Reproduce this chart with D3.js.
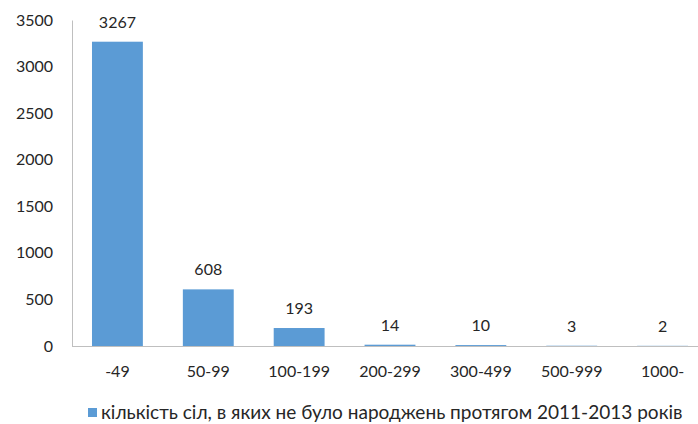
<!DOCTYPE html>
<html><head><meta charset="utf-8">
<script src="https://cdn.jsdelivr.net/npm/d3@7"></script>
<style>body{margin:0;background:#fff}svg{display:block}text{font-family:Lato,"Open Sans",sans-serif}</style>
</head><body>
<svg id="c" width="698" height="424"></svg>
<script>
const categories = ["-49","50-99","100-199","200-299","300-499","500-999","1000-"];
const values = [3267,608,193,14,10,3,2];
const yTicks = [0,500,1000,1500,2000,2500,3000,3500];
const seriesName = "кількість сіл, в яких не було народжень протягом 2011-2013 років";

const svg = d3.select("#c");
const x = d3.scaleBand().domain(categories).range([72,708]).paddingInner(0.44).paddingOuter(0.22);
const y = d3.scaleLinear().domain([0,3500]).range([346,20]);
const txt = "#262626";

// y axis
const ya = svg.append("g").attr("transform","translate(72,0)")
  .call(d3.axisLeft(y).tickValues(yTicks).tickSize(0).tickPadding(19).tickFormat(d3.format("d")));
ya.select(".domain").attr("stroke","#bfbfbf");
ya.selectAll("text").attr("font-size",16).attr("fill",txt).attr("font-family","Lato");

// bars
svg.append("g").selectAll("rect").data(values).join("rect")
  .attr("x",(d,i)=>x(categories[i])).attr("width",x.bandwidth())
  .attr("y",d=>y(d)).attr("height",d=>y(0)-y(d)).attr("fill","#5b9bd5");

// x axis
const xa = svg.append("g").attr("transform","translate(0,346)")
  .call(d3.axisBottom(x).tickSize(0).tickPadding(20));
xa.select(".domain").remove();
svg.append("line").attr("x1",72).attr("x2",698).attr("y1",346.5).attr("y2",346.5).attr("stroke","#bfbfbf");
xa.selectAll("text").attr("font-size",16).attr("fill",txt).attr("font-family","Lato");

// value labels
svg.append("g").selectAll("text").data(values).join("text")
  .attr("x",(d,i)=>x(categories[i])+x.bandwidth()/2).attr("y",d=>y(d)-14)
  .attr("text-anchor","middle").attr("font-size",16).attr("fill",txt).text(d=>d);

// legend
svg.append("rect").attr("x",88).attr("y",408).attr("width",9).attr("height",9).attr("fill","#5b9bd5");
const lt = svg.append("text").attr("x",101).attr("y",419).attr("font-size",16).attr("fill",txt).text(seriesName);
const w = lt.node().getComputedTextLength();
lt.attr("font-size", 16*582/w);
</script>
</body></html>
